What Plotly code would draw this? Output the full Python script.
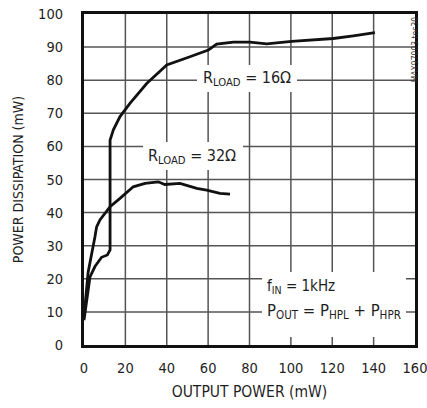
import plotly.graph_objects as go

# Power dissipation vs. output power, two headphone loads
x_16 = [0, 2.9, 5.3, 8.5, 11.3, 12.6, 12.6, 14.2, 17.4, 22.2, 30.3, 40.0, 51.2,
        60.1, 64.1, 72.2, 80.2, 88.3, 100.4, 109.2, 120.5, 130.2, 140.6]
y_16 = [7.5, 20.6, 23.7, 26.5, 27.2, 28.7, 61.9, 65.0, 69.0, 73.0, 79.0, 84.6, 87.1,
        89.1, 90.9, 91.5, 91.5, 91.0, 91.7, 92.1, 92.6, 93.4, 94.4]

x_32 = [0, 2.0, 5.3, 6.1, 7.7, 10.1, 12.6, 17.4, 23.8, 29.5, 35.9, 39.1, 46.4,
        54.5, 59.3, 65.7, 70.6]
y_32 = [8.6, 22.0, 32.7, 35.7, 37.8, 39.8, 41.8, 44.3, 47.8, 48.8, 49.3, 48.5, 48.8,
        47.3, 46.8, 45.8, 45.6]

x_ticks = [0, 20, 40, 60, 80, 100, 120, 140, 160]
y_ticks = [0, 10, 20, 30, 40, 50, 60, 70, 80, 90, 100]

FONT = "DejaVu Sans Condensed, DejaVu Sans, sans-serif"
TXT = "#1e1e1e"
GRID = "#555555"

x_lo, x_hi = x_ticks[0], x_ticks[-1]
y_lo, y_hi = y_ticks[0], y_ticks[-1]

fig = go.Figure()

# Grid lines at every tick, built from the tick lists
vx, vy, hx, hy = [], [], [], []
for v in x_ticks[1:-1]:
    vx += [v, v, None]
    vy += [y_lo, y_hi, None]
for v in y_ticks[1:-1]:
    hx += [x_lo, x_hi, None]
    hy += [v, v, None]
for gx, gy in ((vx, vy), (hx, hy)):
    fig.add_trace(go.Scatter(x=gx, y=gy, mode="lines",
                             line=dict(color=GRID, width=1.5),
                             showlegend=False, hoverinfo="skip"))

for xs, ys in ((x_16, y_16), (x_32, y_32)):
    fig.add_trace(go.Scatter(x=xs, y=ys, mode="lines",
                             line=dict(color="#111111", width=2.8),
                             showlegend=False, hoverinfo="skip"))

# White panels (centre x, centre y, width px, height px) that break the grid
panels = [(78.8, 80.4, 100, 27),
          (52.7, 57.25, 100, 28),
          (120.8, 12.2, 144, 65)]
for cx, cy, w, h in panels:
    fig.add_annotation(x=cx, y=cy, text=" ", showarrow=False, width=w, height=h,
                       bgcolor="white", borderpad=0, borderwidth=0)

label_font = dict(family=FONT, size=16, color=TXT)
fig.add_annotation(x=78.8, y=80.4, text="R<sub>LOAD</sub> = 16Ω",
                   showarrow=False, font=label_font)
fig.add_annotation(x=52.2, y=57.0, text="R<sub>LOAD</sub> = 32Ω",
                   showarrow=False, font=label_font)
fig.add_annotation(x=87.3, y=17.6, xanchor="left", text="f<sub>IN</sub> = 1kHz",
                   showarrow=False, font=dict(family=FONT, size=15, color=TXT))
fig.add_annotation(x=87.3, y=10.2, xanchor="left",
                   text="P<sub>OUT</sub> = P<sub>HPL</sub> + P<sub>HPR</sub>",
                   showarrow=False, font=dict(family=FONT, size=16.5, color=TXT))

# Figure reference code along the right edge
fig.add_annotation(xref="paper", yref="paper", x=1.022, y=1.0, yanchor="top",
                   text="MAX97003 toc30", textangle=-90, showarrow=False,
                   font=dict(family=FONT, size=8.5, color="#333333"))

axis_common = dict(showgrid=False, zeroline=False, showline=True, mirror=True,
                   linecolor="#111111", linewidth=3.2, automargin=False,
                   ticks="outside", tickcolor="rgba(0,0,0,0)",
                   ticklabeloverflow="allow",
                   tickfont=dict(family=FONT, size=14.5, color=TXT))

fig.update_xaxes(range=[x_lo, x_hi], tickvals=x_ticks, ticklen=7,
                 title=dict(text="OUTPUT POWER (mW)", standoff=12,
                            font=dict(family=FONT, size=15.5, color=TXT)),
                 **axis_common)
fig.update_yaxes(range=[y_lo, y_hi], tickvals=y_ticks, ticklen=15,
                 title=dict(text="POWER DISSIPATION (mW)", standoff=12,
                            font=dict(family=FONT, size=14, color=TXT)),
                 **axis_common)

fig.update_layout(template="none", width=427, height=408,
                  margin=dict(l=84, r=12, t=14, b=63),
                  paper_bgcolor="white", plot_bgcolor="white")

fig.write_html("out.html")
